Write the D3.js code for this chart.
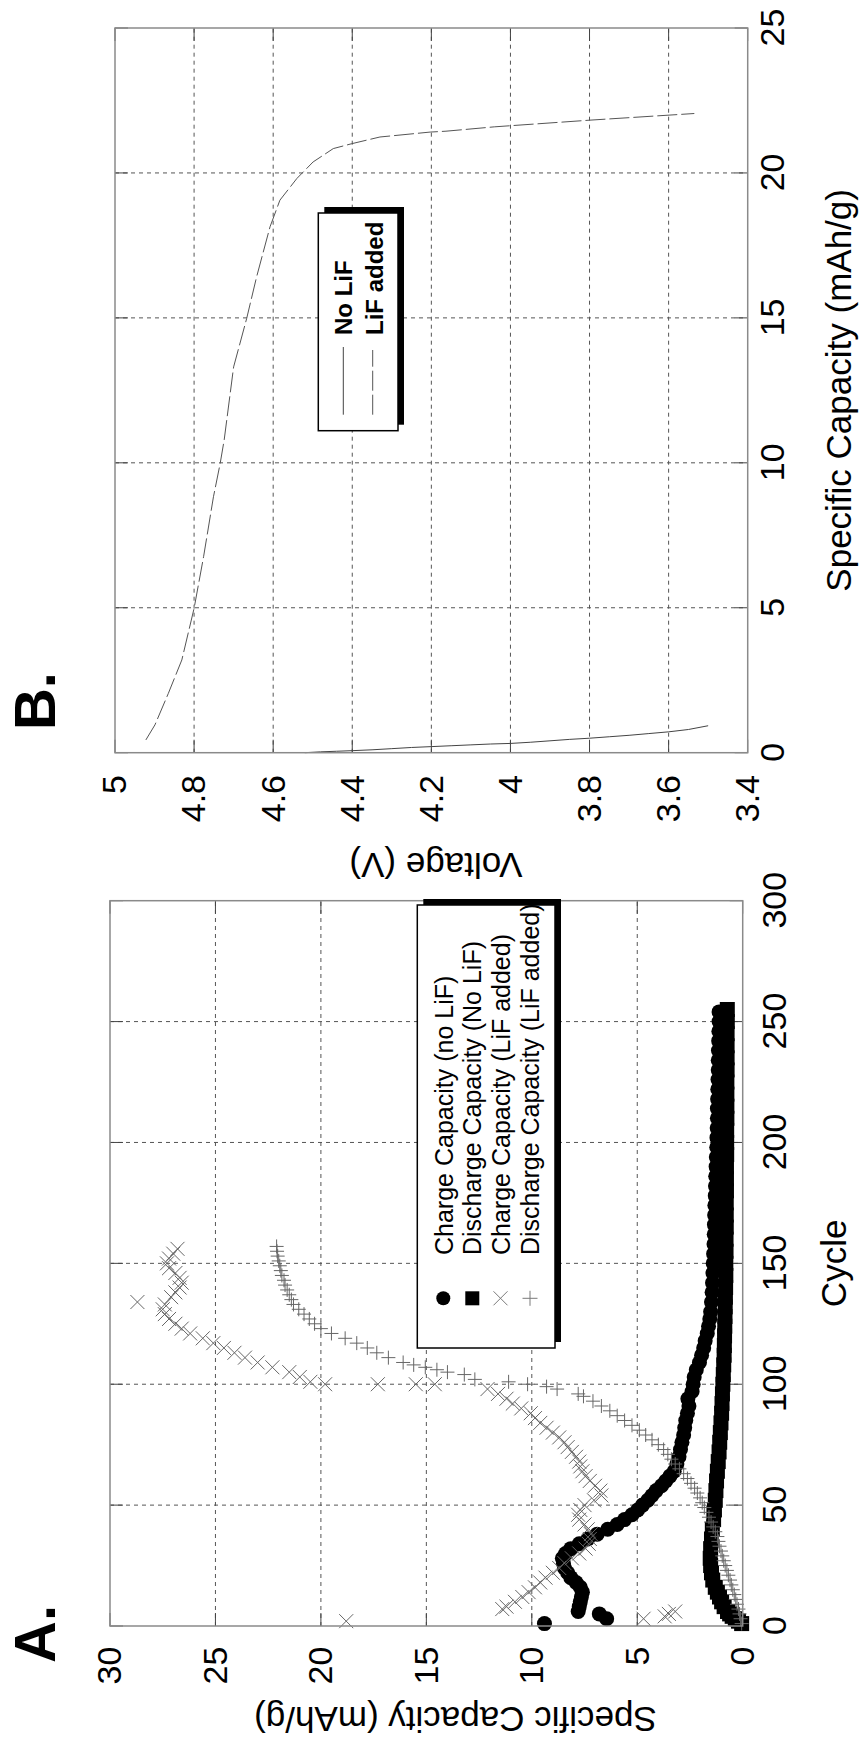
<!DOCTYPE html>
<html><head><meta charset="utf-8">
<script src="https://cdn.jsdelivr.net/npm/d3@7"></script>
<style>
body{margin:0;background:#fff}
svg text{font-family:"Liberation Sans",Arial,Helvetica,sans-serif}
</style>
</head><body>
<svg id="c" width="862" height="1743"></svg>
<script>
// ---------------- DATA ----------------
// Panel A: cycle vs specific capacity (mAh/g)
const cycleTicks = [0,50,100,150,200,250,300];
const cycleLabels = ["0","50","100","150","200","250","300"];
const capATicks = [0,5,10,15,20,25,30];
const capALabels = ["0","5","10","15","20","25","30"];

const chargeNoLiF = [[1,9.4],[3,6.45],[5,6.8],[6,7.8],[8,7.75],[10,7.7],[12,7.65],[14,7.6],[16,7.7],[18,7.9],[20,8.15],[22,8.3],[24,8.45],[26,8.5],[28,8.55],[30,8.4],[32,8.15],[34,7.75],[36,7.35],[38,6.9],[40,6.4],[42,5.95],[44,5.6],[46,5.25],[48,4.98],[50,4.75],[52,4.5],[54,4.3],[56,4.1],[58,3.85],[60,3.65],[62,3.45],[64,3.25],[67,3.12],[70,3.02],[73,2.95],[76,2.88],[79,2.8],[82,2.75],[85,2.7],[88,2.62],[91,2.55],[94,2.6],[97,2.4],[100,2.35],[103,2.3],[106,2.2],[109,2.05],[112,1.95],[115,1.85],[118,1.78],[121,1.68],[124,1.62],[127,1.56],[130,1.52],[134,1.48],[138,1.45],[142,1.43],[146,1.41],[150,1.4],[154,1.38],[158,1.36],[162,1.35],[166,1.34],[170,1.33],[174,1.32],[178,1.3],[182,1.29],[186,1.28],[190,1.26],[194,1.25],[198,1.23],[202,1.22],[206,1.21],[210,1.2],[214,1.2],[218,1.19],[222,1.18],[226,1.17],[230,1.16],[234,1.16],[238,1.15],[242,1.14],[246,1.13],[250,1.12],[254,1.12]];

const dischargeNoLiF = [[1,0.05],[2,0.2],[3,0.35],[4,0.5],[5,0.62],[6,0.72],[8,0.88],[10,1.0],[12,1.1],[14,1.2],[16,1.3],[19,1.42],[22,1.48],[25,1.52],[28,1.54],[32,1.52],[36,1.48],[40,1.44],[44,1.38],[48,1.34],[52,1.3],[56,1.27],[60,1.24],[64,1.2],[68,1.16],[72,1.12],[76,1.09],[80,1.06],[84,1.03],[88,1.0],[92,0.98],[96,0.96],[100,0.94],[104,0.92],[108,0.9],[112,0.88],[116,0.87],[120,0.86],[124,0.85],[128,0.84],[132,0.83],[136,0.82],[140,0.81],[145,0.8],[150,0.8],[155,0.79],[160,0.79],[165,0.78],[170,0.78],[175,0.78],[180,0.77],[185,0.77],[190,0.77],[195,0.76],[200,0.76],[205,0.76],[210,0.75],[215,0.75],[220,0.75],[225,0.75],[230,0.74],[235,0.74],[240,0.74],[245,0.74],[250,0.73],[255,0.73]];

const chargeLiF = [[2,18.8],[3,4.7],[4,3.7],[5,3.5],[6,3.2],[7,11.4],[8,11.2],[10,10.8],[12,10.45],[14,10.15],[16,9.85],[18,9.6],[20,9.35],[22,9.0],[24,8.7],[26,8.45],[28,8.1],[30,7.75],[32,7.45],[34,7.3],[36,7.25],[38,7.2],[40,7.35],[42,7.5],[44,7.75],[46,7.8],[48,7.7],[50,7.5],[52,7.05],[54,6.7],[56,6.75],[58,7.0],[60,7.25],[62,7.45],[64,7.6],[66,7.7],[68,7.75],[70,7.9],[72,8.1],[74,8.3],[76,8.45],[78,8.7],[80,9.0],[82,9.3],[84,9.6],[86,9.85],[88,10.05],[90,10.5],[92,10.9],[94,11.2],[96,11.6],[98,12.1],[100,14.6],[100,15.5],[100,17.3],[100,19.8],[101,20.5],[103,21.0],[105,21.5],[107,22.3],[109,23.0],[111,23.6],[113,24.1],[115,24.6],[117,25.1],[119,25.6],[121,26.2],[123,26.6],[125,26.9],[127,27.2],[129,27.4],[131,27.5],[133,27.4],[134,28.7],[136,27.1],[138,26.9],[140,26.7],[142,26.6],[144,26.7],[146,26.9],[148,27.2],[150,27.3],[152,27.2],[154,27.0],[156,26.8]];

const dischargeLiF = [[1,0.05],[3,0.1],[5,0.15],[7,0.2],[9,0.27],[11,0.33],[13,0.4],[15,0.47],[17,0.54],[19,0.6],[21,0.68],[23,0.75],[25,0.83],[27,0.9],[29,0.97],[31,1.03],[33,1.1],[35,1.15],[37,1.2],[39,1.3],[41,1.4],[43,1.5],[45,1.6],[47,1.72],[49,1.82],[51,1.92],[53,2.02],[55,2.15],[57,2.28],[59,2.45],[61,2.62],[63,2.8],[65,3.0],[67,3.2],[69,3.38],[71,3.55],[73,3.75],[75,4.0],[77,4.3],[79,4.6],[81,4.9],[83,5.25],[85,5.6],[87,5.95],[89,6.3],[91,6.7],[93,7.1],[95,7.55],[96,7.8],[98,8.8],[99,9.3],[100,10.2],[101,11.1],[102,12.7],[104,13.2],[105,14.0],[106,14.5],[107,15.05],[108,15.6],[109,16.1],[111,16.8],[113,17.35],[115,17.8],[117,18.3],[119,18.85],[121,19.5],[123,20.0],[125,20.3],[127,20.55],[129,20.8],[131,21.05],[133,21.3],[135,21.4],[137,21.5],[139,21.6],[141,21.7],[143,21.75],[145,21.85],[147,21.9],[149,21.95],[151,22.0],[153,22.05],[155,22.08],[157,22.1]];

const legendA = ["Charge Capacity (no LiF)","Discharge Capacity (No LiF)","Charge Capacity (LiF added)","Discharge Capacity (LiF added)"];

// Panel B: specific capacity (mAh/g) vs voltage (V)
const capBTicks = [0,5,10,15,20,25];
const capBLabels = ["0","5","10","15","20","25"];
const voltTicks = [3.4,3.6,3.8,4.0,4.2,4.4,4.6,4.8,5.0];
const voltLabels = ["3.4","3.6","3.8","4","4.2","4.4","4.6","4.8","5"];

const noLiFCap  = [0.0,0.03,0.05,0.07,0.1,0.14,0.18,0.21,0.24,0.27,0.3,0.32,0.36,0.41,0.46,0.5,0.55,0.6,0.66,0.72,0.8,0.93];
const noLiFVolt = [4.52,4.48,4.44,4.4,4.35,4.3,4.25,4.2,4.15,4.1,4.05,4.0,3.95,3.9,3.85,3.8,3.75,3.7,3.65,3.6,3.55,3.5];

const lifCap  = [0.44,0.96,2.05,3.2,4.98,6.76,8.83,9.98,10.78,13.31,14.98,16.41,18.14,19.06,19.81,20.38,20.84,21.01,21.24,21.41,21.44,21.59,21.82,22.05];
const lifVolt = [4.922,4.899,4.865,4.831,4.8,4.776,4.751,4.734,4.724,4.70,4.667,4.642,4.608,4.583,4.54,4.499,4.448,4.401,4.33,4.203,4.163,4.041,3.8,3.535];

const legendB = ["No LiF","LiF added"];

// ---------------- DRAW ----------------
const svg = d3.select('#c');
const FONT = '"Liberation Sans",Arial,Helvetica,sans-serif';

function panel(cfg){
  const g = svg.append('g').attr('transform',`translate(${cfg.left},${cfg.bottom}) rotate(-90)`);
  const W = cfg.W, H = cfg.H;
  const x = d3.scaleLinear().domain(cfg.xDomain).range([0,W]);
  const y = d3.scaleLinear().domain(cfg.yDomain).range([H,0]);
  const inner = v => v !== cfg.xDomain[0] && v !== cfg.xDomain[1];
  const innerY = v => v !== cfg.yDomain[0] && v !== cfg.yDomain[1];
  g.append('g').selectAll('line').data(cfg.xTicks.filter(inner)).join('line')
    .attr('x1',d=>x(d)).attr('x2',d=>x(d)).attr('y1',0).attr('y2',H)
    .attr('stroke','#555').attr('stroke-width',1).attr('stroke-dasharray','4,4');
  g.append('g').selectAll('line').data(cfg.yTicks.filter(innerY)).join('line')
    .attr('y1',d=>y(d)).attr('y2',d=>y(d)).attr('x1',0).attr('x2',W)
    .attr('stroke','#555').attr('stroke-width',1).attr('stroke-dasharray','4,4');
  const tk = 13;
  const tg = g.append('g').attr('stroke','#444').attr('stroke-width',1);
  cfg.xTicks.forEach(v=>{
    tg.append('line').attr('x1',x(v)).attr('x2',x(v)).attr('y1',H).attr('y2',H-tk);
    tg.append('line').attr('x1',x(v)).attr('x2',x(v)).attr('y1',0).attr('y2',tk);
  });
  cfg.yTicks.forEach(v=>{
    tg.append('line').attr('y1',y(v)).attr('y2',y(v)).attr('x1',0).attr('x2',tk);
    tg.append('line').attr('y1',y(v)).attr('y2',y(v)).attr('x1',W).attr('x2',W-tk);
  });
  const ax = g.append('g').attr('transform',`translate(0,${H})`)
    .call(d3.axisBottom(x).tickValues(cfg.xTicks).tickFormat((d,i)=>cfg.xLabels[i]).tickSize(0));
  ax.select('.domain').remove();
  ax.attr('font-size',34).attr('font-family',FONT);
  ax.selectAll('text').attr('y',cfg.xLabelY).attr('dy',null).attr('fill','#000');
  const ay = g.append('g')
    .call(d3.axisLeft(y).tickValues(cfg.yTicks).tickFormat((d,i)=>cfg.yLabels[i]).tickSize(0));
  ay.select('.domain').remove();
  ay.attr('font-size',34).attr('font-family',FONT);
  ay.selectAll('text').attr('x',-cfg.yLabelGap).attr('fill','#000');
  g.append('text').attr('x',W/2).attr('y',H+103.3).attr('text-anchor','middle')
    .attr('font-size',35).text(cfg.xTitle);
  g.append('text').attr('transform',`translate(${cfg.yTitleX},${cfg.yTitleC}) rotate(-90)`)
    .attr('text-anchor','middle').attr('font-size',35).text(cfg.yTitle);
  g.append('text').attr('x',cfg.letterX).attr('y',cfg.letterY).attr('font-size',58)
    .attr('font-weight','bold').text(cfg.letter);
  return {g,x,y,W,H};
}

// ---- Panel A ----
const A = panel({left:110,bottom:1626,W:725.3,H:632.7,xDomain:[0,300],yDomain:[0,30],
  xTicks:cycleTicks,xLabels:cycleLabels,yTicks:capATicks,yLabels:capALabels,
  xLabelY:43.3,yLabelGap:20.7,xTitle:"Cycle",yTitle:"Specific Capacity (mAh/g)",
  yTitleX:-81.3,yTitleC:345.5,letter:"A.",letterX:-37,letterY:-55});

const crossPath = (cx,cy,r)=>`M${cx-r},${cy-r}L${cx+r},${cy+r}M${cx-r},${cy+r}L${cx+r},${cy-r}`;
const plusPath = (cx,cy,r)=>`M${cx-r},${cy}L${cx+r},${cy}M${cx},${cy-r}L${cx},${cy+r}`;

const MR = 7.5;
const dA = A.g.append('g');
dA.selectAll('circle').data(chargeNoLiF).join('circle')
  .attr('cx',d=>A.x(d[0])).attr('cy',d=>A.y(d[1])).attr('r',MR).attr('fill','#000');
dA.selectAll('rect').data(dischargeNoLiF).join('rect')
  .attr('x',d=>A.x(d[0])-MR).attr('y',d=>A.y(d[1])-MR).attr('width',2*MR).attr('height',2*MR).attr('fill','#000');
dA.append('g').selectAll('path').data(chargeLiF).join('path')
  .attr('d',d=>crossPath(A.x(d[0]),A.y(d[1]),7)).attr('stroke','#666').attr('stroke-width',1).attr('fill','none');
dA.append('g').selectAll('path').data(dischargeLiF).join('path')
  .attr('d',d=>plusPath(A.x(d[0]),A.y(d[1]),7)).attr('stroke','#666').attr('stroke-width',1).attr('fill','none');

A.g.append('rect').attr('width',A.W).attr('height',A.H).attr('fill','none').attr('stroke','#8a8a8a').attr('stroke-width',1.5);

// legend A
{
  const lg = A.g.append('g');
  const bx=278, by=307.3, bw=443, bh=137.7;
  lg.append('rect').attr('x',bx+6).attr('y',by+6).attr('width',bw).attr('height',bh).attr('fill','#000');
  lg.append('rect').attr('x',bx).attr('y',by).attr('width',bw).attr('height',bh).attr('fill','#fff').attr('stroke','#000').attr('stroke-width',1.5);
  const mx = 327.7, rowsY=[333.3,362.3,390.5,420], baseY=[343,371.3,400,429];
  lg.append('circle').attr('cx',mx).attr('cy',rowsY[0]).attr('r',7).attr('fill','#000');
  lg.append('rect').attr('x',mx-7).attr('y',rowsY[1]-7).attr('width',14).attr('height',14).attr('fill','#000');
  lg.append('path').attr('d',crossPath(mx,rowsY[2],7)).attr('stroke','#7a7a7a').attr('fill','none');
  lg.append('path').attr('d',plusPath(mx,rowsY[3],7.5)).attr('stroke','#7a7a7a').attr('fill','none');
  lg.selectAll('text').data(legendA).join('text')
    .attr('x',371).attr('y',(d,i)=>baseY[i]).attr('font-size',25).text(d=>d);
}

// ---- Panel B ----
const B = panel({left:115,bottom:752.7,W:724.7,H:632.7,xDomain:[0,25],yDomain:[3.4,5],
  xTicks:capBTicks,xLabels:capBLabels,yTicks:voltTicks,yLabels:voltLabels,
  xLabelY:36.3,yLabelGap:22.3,xTitle:"Specific Capacity (mAh/g)",yTitle:"Voltage (V)",
  yTitleX:-100,yTitleC:321,letter:"B.",letterX:22.7,letterY:-60});

const lineB = d3.line().x(d=>B.x(d[0])).y(d=>B.y(d[1]));
B.g.append('path').attr('d',lineB(noLiFCap.map((c,i)=>[c,noLiFVolt[i]])))
  .attr('fill','none').attr('stroke','#444').attr('stroke-width',1);
B.g.append('path').attr('d',lineB(lifCap.map((c,i)=>[c,lifVolt[i]])))
  .attr('fill','none').attr('stroke','#555').attr('stroke-width',1).attr('stroke-dasharray','20,4');

B.g.append('rect').attr('width',B.W).attr('height',B.H).attr('fill','none').attr('stroke','#8a8a8a').attr('stroke-width',1.5);

// legend B
{
  const lg = B.g.append('g');
  const bx=322, by=203.3, bw=217.7, bh=79.7;
  lg.append('rect').attr('x',bx+6).attr('y',by+6).attr('width',bw).attr('height',bh).attr('fill','#000');
  lg.append('rect').attr('x',bx).attr('y',by).attr('width',bw).attr('height',bh).attr('fill','#fff').attr('stroke','#000').attr('stroke-width',1.5);
  lg.append('line').attr('x1',338).attr('x2',405.7).attr('y1',228.3).attr('y2',228.3).attr('stroke','#444').attr('stroke-width',1);
  lg.append('line').attr('x1',338).attr('x2',402.7).attr('y1',257.7).attr('y2',257.7).attr('stroke','#555').attr('stroke-width',1).attr('stroke-dasharray','20,4');
  lg.selectAll('text').data(legendB).join('text')
    .attr('x',417.7).attr('y',(d,i)=>[237,267.5][i]).attr('font-size',24).attr('font-weight','bold').text(d=>d);
}
</script>
</body></html>
